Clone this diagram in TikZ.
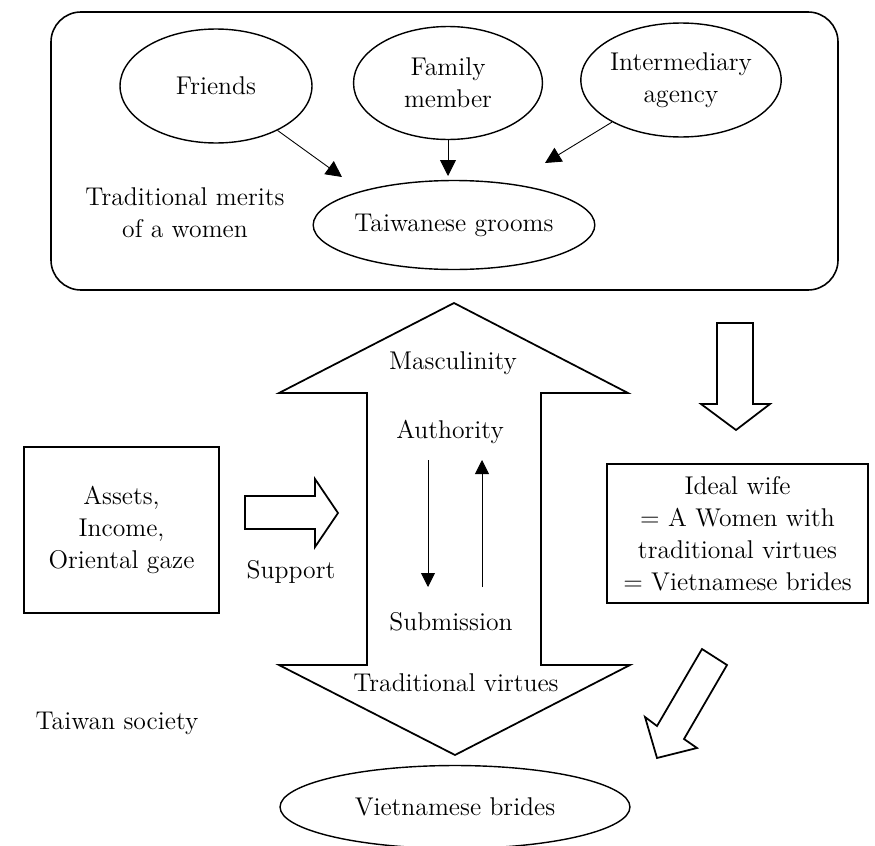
\documentclass[tikz,border=0pt]{standalone}
\usetikzlibrary{shapes.geometric,arrows.meta}

\begin{document}
\begin{tikzpicture}[x=0.02cm,y=-0.02cm,
  every node/.style={font=\fontsize{14.6}{18.2}\selectfont,align=center},
  oval/.style={draw,ellipse,line width=0.8pt,inner sep=0pt},
  box/.style={draw,rectangle,line width=0.8pt,inner sep=0pt},
  pointer/.style={-{Triangle[length=3.2mm,width=3.2mm]},line width=0.5pt},
  smallpointer/.style={-{Triangle[length=2.8mm,width=2.8mm]},line width=0.5pt},
  blockarrow/.style={draw,line width=1pt,line join=miter}]
\useasboundingbox (0,0) rectangle (875,845);

% top panel
\draw[line width=0.9pt,rounded corners=0.6cm] (51,12) rectangle (838,290);
\node[oval,minimum width=3.84cm,minimum height=2.28cm] (fr) at (216,86) {Friends};
\node[oval,minimum width=3.78cm,minimum height=2.26cm] (mem) at (448,83) {Family\\member};
\node[oval,minimum width=3.8cm,minimum height=2.28cm] (agc) at (681,80) {Intermediary\\agency};
\node[oval,minimum width=5.3cm,minimum height=1.78cm] (grm) at (454,225) {Taiwanese grooms};
\node (mer) at (185,213) {Traditional merits\\of a women};
\coordinate (tf) at (342,177); \coordinate (tm) at (448,176); \coordinate (ta) at (545,163);
\draw[pointer] (fr) -- (tf);
\draw[pointer] (mem) -- (tm);
\draw[pointer] (agc) -- (ta);

% double arrow
\draw[blockarrow] (454,303) -- (628,393) -- (541,393) -- (541,665) -- (630,665) -- (455,755)
  -- (279,665) -- (367,665) -- (367,393) -- (279,393) -- cycle;
\node (mas) at (453,363) {Masculinity};
\node (aut) at (450,432) {Authority};
\node (sub) at (451,622) {Submission};
\node (vir) at (456,683) {Traditional virtues};
\coordinate (d1) at (428,460); \coordinate (d2) at (428,587);
\coordinate (u1) at (482,587); \coordinate (u2) at (482,460);
\draw[smallpointer] (d1) -- (d2);
\draw[smallpointer] (u1) -- (u2);

% left side
\node[box,minimum width=3.9cm,minimum height=3.32cm] (ast) at (121.5,530) {Assets,\\Income,\\Oriental gaze};
\draw[blockarrow] (245,496) -- (315,496) -- (315,479) -- (338,513) -- (315,547) -- (315,529) -- (245,529) -- cycle;
\node (sup) at (291,572) {Support};
\node (tws) at (117,723) {Taiwan society};

% right side
\draw[blockarrow] (717,323) -- (753,323) -- (753,404) -- (770,404) -- (736,430) -- (701,404) -- (717,404) -- cycle;
\node[box,minimum width=5.22cm,minimum height=2.78cm] (idw) at (737.5,533.5) {Ideal wife\\= A Women with\\traditional virtues\\= Vietnamese brides};
\draw[blockarrow] (702,649) -- (727,665) -- (684,739) -- (697,748) -- (657,758) -- (645,717) -- (657,726) -- cycle;

% bottom
\node[oval,minimum width=7cm,minimum height=1.66cm] (vnb) at (455,807) {Vietnamese brides};
\end{tikzpicture}
\end{document}
